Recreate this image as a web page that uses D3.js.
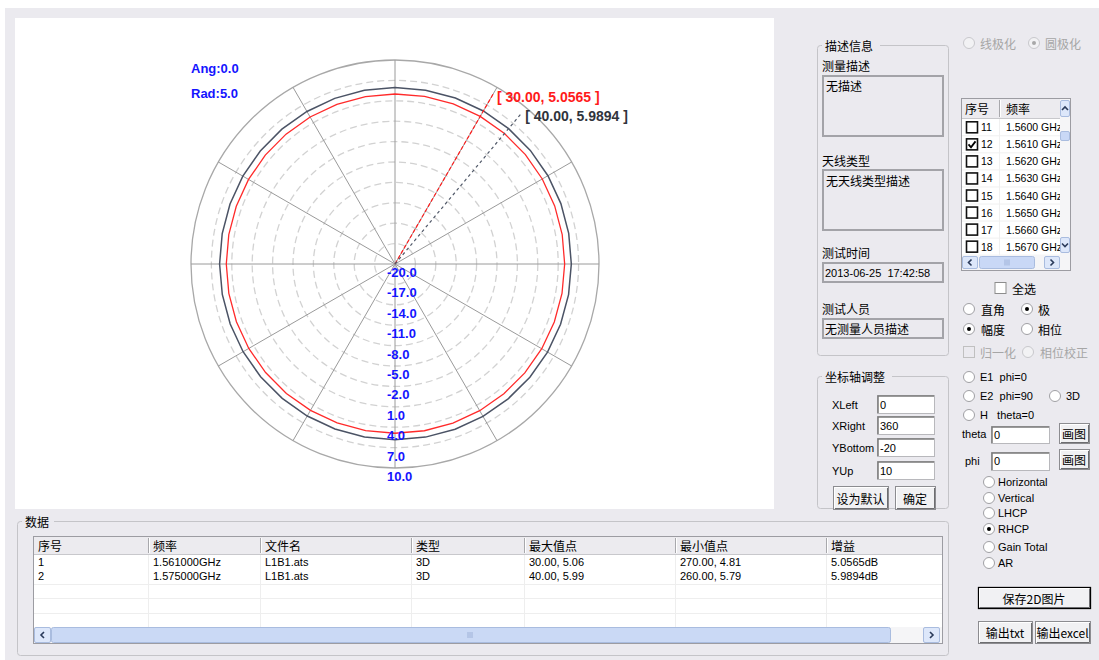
<!DOCTYPE html>
<html><head><meta charset="utf-8">
<script src="https://cdn.jsdelivr.net/npm/d3@7"></script>
<style>
body{margin:0;background:#fff;}
svg text{font-family:"Liberation Sans",Arial,"Noto Sans CJK SC",sans-serif;white-space:pre;}
</style></head><body>
<svg id="c" width="1099" height="660"></svg>
<script>
// ---------- chart data ----------
const angles = [0,10,20,30,40,50,60,70,80,90,100,110,120,130,140,150,160,170,180,190,200,210,220,230,240,250,260,270,280,290,300,310,320,330,340,350];
const gain1561 = [5.00,5.03,5.05,5.06,5.05,5.03,5.01,4.99,4.97,4.95,4.94,4.93,4.92,4.92,4.91,4.91,4.90,4.90,4.89,4.88,4.87,4.86,4.85,4.84,4.83,4.82,4.815,4.81,4.82,4.84,4.87,4.90,4.93,4.96,4.98,4.99];
const gain1575 = [5.95,5.96,5.97,5.98,5.99,5.98,5.97,5.96,5.94,5.93,5.92,5.91,5.90,5.89,5.88,5.87,5.86,5.85,5.84,5.83,5.82,5.81,5.80,5.80,5.795,5.79,5.79,5.795,5.80,5.82,5.84,5.86,5.88,5.90,5.92,5.94];
const radialTicks = [-20,-17,-14,-11,-8,-5,-2,1,4,7,10];
const spokeAngles = [0,30,60,90,120,150,180,210,240,270,300,330];
const markerAngles = [30,40];
const markerValues = [5.0565,5.9894];
const infoLabels = ["Ang:0.0","Rad:5.0"];

// ---------- UI data ----------
const listNums = [11,12,13,14,15,16,17,18];
const listFreqs = ["1.5600 GHz","1.5610 GHz","1.5620 GHz","1.5630 GHz","1.5640 GHz","1.5650 GHz","1.5660 GHz","1.5670 GHz"];
const listChecked = [false,true,false,false,false,false,false,false];
const tableHeaders = ["序号","频率","文件名","类型","最大值点","最小值点","增益"];
const tableRows = [["1","1.561000GHz","L1B1.ats","3D","30.00, 5.06","270.00, 4.81","5.0565dB"],
                   ["2","1.575000GHz","L1B1.ats","3D","40.00, 5.99","260.00, 5.79","5.9894dB"]];
const axisLabels = ["XLeft","XRight","YBottom","YUp"];
const axisValues = ["0","360","-20","10"];
const compLabels = ["Horizontal","Vertical","LHCP","RHCP","Gain Total","AR"];

const svg = d3.select("#c");
const PANEL = "#ebeaef";
const CN = '"Noto Sans CJK SC","Liberation Sans",sans-serif';
const LAT = '"Liberation Sans",Arial,sans-serif';

svg.append("rect").attr("x",5).attr("y",8).attr("width",1094).attr("height",652).attr("fill",PANEL);
svg.append("rect").attr("x",15).attr("y",18).attr("width",759).attr("height",491).attr("fill","#fff");

// ---------- polar chart ----------
const cx = 395, cy = 264, R = 204;
const r = d3.scaleLinear().domain([-20,10]).range([0,R]);
const a = d3.scaleLinear().domain([0,360]).range([0,2*Math.PI]);
const g = svg.append("g").attr("transform",`translate(${cx},${cy})`);
const px = (deg,rr)=>rr*Math.sin(a(deg));
const py = (deg,rr)=>-rr*Math.cos(a(deg));

g.selectAll("circle.ring").data(radialTicks.filter(t=>t>-20 && t<10)).join("circle")
  .attr("r",d=>r(d)).attr("fill","none").attr("stroke","#d2d2d2").attr("stroke-width",1.3)
  .attr("stroke-dasharray","7,4");
g.append("circle").attr("r",r(10)).attr("fill","none").attr("stroke","#a8a8a8").attr("stroke-width",1.3);
g.selectAll("line.spoke").data(spokeAngles).join("line")
  .attr("x1",0).attr("y1",0).attr("x2",d=>px(d,r(10))).attr("y2",d=>py(d,r(10)))
  .attr("stroke","#9a9a9a").attr("stroke-width",1);

const line = d3.lineRadial().angle(d=>a(d[0])).radius(d=>r(d[1])).curve(d3.curveLinearClosed);
g.append("path").datum(angles.map((d,i)=>[d,gain1575[i]])).attr("d",line)
  .attr("fill","none").attr("stroke","#4b5365").attr("stroke-width",1.5);
g.append("path").datum(angles.map((d,i)=>[d,gain1561[i]])).attr("d",line)
  .attr("fill","none").attr("stroke","#ff2a2a").attr("stroke-width",1.3);

const mColors = ["#ff2020","#505868"];
const mTextColors = ["#ff1a1a","#30343c"];
const mLen = R*0.97;
markerAngles.forEach((ang,i)=>{
  g.append("line").attr("x1",0).attr("y1",0).attr("x2",px(ang,mLen)).attr("y2",py(ang,mLen))
    .attr("stroke",mColors[i]).attr("stroke-width",1.2).attr("stroke-dasharray", i===0?"4,2":"3,3");
  g.append("text").attr("x",px(ang,mLen)+3).attr("y",py(ang,mLen)+4)
    .attr("dominant-baseline","central").attr("font-size",14).attr("font-weight","bold")
    .attr("fill",mTextColors[i]).text(`[ ${ang.toFixed(2)}, ${markerValues[i].toFixed(4)} ]`);
});

g.selectAll("text.tick").data(radialTicks).join("text")
  .attr("x",-8).attr("y",d=>r(d)+13).attr("font-size",13).attr("font-weight","bold")
  .attr("fill","#1414ff").text(d=>d.toFixed(1));

infoLabels.forEach((t,i)=>svg.append("text").attr("x",191).attr("y",68+25*i).attr("dominant-baseline","central")
  .attr("font-size",13).attr("font-weight","bold").attr("fill","#1414ff").text(t));

// ---------- UI helpers ----------
function txt(x,y,s,opt={}){
  return svg.append("text").attr("x",x).attr("y",y).attr("dominant-baseline","central")
    .attr("font-size",opt.size||12).attr("fill",opt.fill||"#000")
    .style("font-family",opt.lat?LAT:CN).attr("text-anchor",opt.anchor||"start").text(s);
}
function groupBox(x,y,w,h,title,tw){
  svg.append("rect").attr("x",x+0.5).attr("y",y+0.5).attr("width",w).attr("height",h).attr("rx",3)
    .attr("fill","none").attr("stroke","#c4c4c8");
  svg.append("rect").attr("x",x+5).attr("y",y-7).attr("width",tw).attr("height",14).attr("fill",PANEL);
  txt(x+8,y,title);
}
function roBox(x,y,w,h){
  svg.append("rect").attr("x",x+1).attr("y",y+1).attr("width",w-2).attr("height",h-2).attr("fill",PANEL)
    .attr("stroke","#a3a3a8").attr("stroke-width",2);
}
function input(x,y,w,h){
  svg.append("rect").attr("x",x+0.5).attr("y",y+0.5).attr("width",w).attr("height",h).attr("fill","#fff").attr("stroke","#b8b8bc");
  svg.append("path").attr("d",`M${x+1},${y+h}V${y+1}H${x+w}`).attr("fill","none").attr("stroke","#7a7a7a").attr("stroke-width",1.5);
}
function button(x,y,w,h,label,def){
  svg.append("rect").attr("x",x+0.5).attr("y",y+0.5).attr("width",w).attr("height",h).attr("fill","#f1f1f3")
    .attr("stroke",def?"#000":"#8c8c90").attr("stroke-width",def?1.3:1);
  svg.append("path").attr("d",`M${x+1.5},${y+h-1}V${y+1.5}H${x+w-1}`).attr("fill","none").attr("stroke","#fff");
  svg.append("path").attr("d",`M${x+2},${y+h-0.5}H${x+w-0.5}V${y+2}`).attr("fill","none").attr("stroke","#6d6d70");
  txt(x+w/2,y+h/2+0.5,label,{anchor:"middle"});
}
function radio(x,y,checked,disabled){
  svg.append("circle").attr("cx",x).attr("cy",y).attr("r",5.5).attr("fill",disabled?"#f2f2f4":"#fff")
    .attr("stroke",disabled?"#c8c8cc":"#a0a0a4");
  if(checked) svg.append("circle").attr("cx",x).attr("cy",y).attr("r",2).attr("fill",disabled?"#a8a8a8":"#000");
}
function checkbox(x,y,checked,style){
  const s = 11;
  svg.append("rect").attr("x",x).attr("y",y-s/2).attr("width",s).attr("height",s)
    .attr("fill",style==="dis"?PANEL:"#fff").attr("stroke",style==="bold"?"#111":(style==="dis"?"#c0c0c0":"#8d8d8d"))
    .attr("stroke-width",style==="bold"?1.6:1);
  if(checked) svg.append("path").attr("d",`M${x+2},${y}L${x+4.5},${y+3}L${x+9},${y-3}`).attr("fill","none").attr("stroke","#000").attr("stroke-width",1.8);
}
function scrollBtn(x,y,w,h,dir){
  svg.append("rect").attr("x",x+0.5).attr("y",y+0.5).attr("width",w-1).attr("height",h-1).attr("rx",1.5)
    .attr("fill","#dde7fa").attr("stroke","#a9bcdf");
  const mx=x+w/2,my=y+h/2;
  const d={up:`M${mx-3},${my+1.5}L${mx},${my-1.5}L${mx+3},${my+1.5}`,down:`M${mx-3},${my-1.5}L${mx},${my+1.5}L${mx+3},${my-1.5}`,
    left:`M${mx+1.5},${my-3}L${mx-1.5},${my}L${mx+1.5},${my+3}`,right:`M${mx-1.5},${my-3}L${mx+1.5},${my}L${mx-1.5},${my+3}`}[dir];
  svg.append("path").attr("d",d).attr("fill","none").attr("stroke","#2a3a5a").attr("stroke-width",1.6);
}
function grip(x,y,vertical){
  for(let i=-2;i<=2;i+=2){
    if(vertical) svg.append("line").attr("x1",x-3).attr("x2",x+3).attr("y1",y+i).attr("y2",y+i).attr("stroke","#9fb2d8");
    else svg.append("line").attr("x1",x+i).attr("x2",x+i).attr("y1",y-3).attr("y2",y+3).attr("stroke","#9fb2d8");
  }
}

// ---------- description group ----------
groupBox(817,45,131,310,"描述信息",58);
txt(822,65,"测量描述"); roBox(822,75,122,62); txt(826,85,"无描述");
txt(822,160,"天线类型"); roBox(822,169,122,62); txt(826,180,"无天线类型描述");
txt(822,252,"测试时间"); roBox(822,262,122,21); txt(825,273,"2013-06-25  17:42:58",{lat:true,size:11});
txt(822,308,"测试人员"); roBox(822,318,122,21); txt(825,328,"无测量人员描述");

// ---------- axis group ----------
groupBox(817,376,131,132,"坐标轴调整",70);
axisLabels.forEach((l,i)=>{
  const y=[405,426,448,471][i];
  txt(832,y,l,{lat:true,size:11});
  input(877,y-10,57,18);
  txt(880,y,axisValues[i],{lat:true,size:11});
});
button(833,486,55,23,"设为默认");
button(895,486,40,23,"确定");

// ---------- right column ----------
radio(969,43,false,true); txt(980,43,"线极化",{fill:"#a6a6a6"});
radio(1034,43,true,true); txt(1045,43,"圆极化",{fill:"#a6a6a6"});

// list box
svg.append("rect").attr("x",961.5).attr("y",98.5).attr("width",109).attr("height",172).attr("fill","#fff").attr("stroke","#9c9ca2");
svg.append("rect").attr("x",962).attr("y",99).attr("width",98).attr("height",19).attr("fill","#ecebef");
svg.append("line").attr("x1",962).attr("x2",1060).attr("y1",118.5).attr("y2",118.5).attr("stroke","#c8c8cc");
svg.append("line").attr("x1",999.5).attr("x2",999.5).attr("y1",100).attr("y2",117).attr("stroke","#a8a8ac");
svg.append("line").attr("x1",1000.5).attr("x2",1000.5).attr("y1",100).attr("y2",117).attr("stroke","#fff");
txt(965,108.5,"序号"); txt(1006,108.5,"频率");
svg.append("clipPath").attr("id","lc").append("rect").attr("x",962).attr("y",119).attr("width",98).attr("height",137);
const lg = svg.append("g").attr("clip-path","url(#lc)");
listNums.forEach((n,i)=>{
  const y = 127.3+17.05*i;
  lg.append("line").attr("x1",962).attr("x2",1060).attr("y1",y+8.5).attr("y2",y+8.5).attr("stroke","#f0f0f0");
  checkbox(966.5,y,listChecked[i],"bold");
  lg.append("text").attr("x",981).attr("y",y).attr("dominant-baseline","central").attr("font-size",10.5).style("font-family",LAT).text(n);
  lg.append("text").attr("x",1006).attr("y",y).attr("dominant-baseline","central").attr("font-size",10.5).style("font-family",LAT).text(listFreqs[i]);
});
lg.append("line").attr("x1",999.5).attr("x2",999.5).attr("y1",119).attr("y2",256).attr("stroke","#f0f0f0");
// v scrollbar
svg.append("rect").attr("x",1060).attr("y",99).attr("width",10).attr("height",156).attr("fill","#f5f5f7");
scrollBtn(1060,100,10,17,"up"); 
svg.append("rect").attr("x",1060.5).attr("y",131.5).attr("width",9).attr("height",9).attr("rx",1.5).attr("fill","#c9d8f6").attr("stroke","#a9bcdf");
scrollBtn(1060,237,10,16,"down");
// h scrollbar
svg.append("rect").attr("x",962).attr("y",255).attr("width",108).attr("height",15).attr("fill","#f5f5f7");
scrollBtn(962,256,16,13,"left");
svg.append("rect").attr("x",979.5).attr("y",256.5).attr("width",55).attr("height",12).attr("rx",2).attr("fill","#c9d8f6").attr("stroke","#a9bcdf");
grip(1007,262.5,false);
scrollBtn(1044,256,16,13,"right");

checkbox(995,288,false,"norm"); txt(1012,288,"全选");
radio(969,309,false); txt(981,309,"直角");
radio(1027,309,true); txt(1038,309,"极");
radio(969,329,true); txt(981,329,"幅度");
radio(1027,329,false); txt(1038,329,"相位");
checkbox(963.5,352,false,"dis"); txt(980,352,"归一化",{fill:"#a6a6a6"});
radio(1028,352,false,true); txt(1040,352,"相位校正",{fill:"#a6a6a6"});
radio(969,377,false); txt(980,377,"E1  phi=0",{lat:true,size:11});
radio(969,396,false); txt(980,396,"E2  phi=90",{lat:true,size:11});
radio(1055,396,false); txt(1066,396,"3D",{lat:true,size:11});
radio(969,415,false); txt(980,415,"H   theta=0",{lat:true,size:11});
txt(962,434,"theta",{lat:true,size:11}); input(991,426,58,17); txt(994,435,"0",{lat:true,size:11});
button(1059,423,30,20,"画图");
txt(965,461,"phi",{lat:true,size:11}); input(991,452,58,18); txt(994,461,"0",{lat:true,size:11});
button(1059,449,30,20,"画图");
compLabels.forEach((l,i)=>{
  const y=[482,498,513,529,547,563][i];
  radio(989,y,l==="RHCP"); txt(998,y,l,{lat:true,size:11});
});
button(978,587,112,21,"保存2D图片",true);
button(978,621,54,22,"输出txt");
button(1035,621,55,22,"输出excel");

// ---------- data table ----------
groupBox(17,521,931,134,"数据",32);
const colX = [33,148,260,411,524,675,826,942];
svg.append("rect").attr("x",33.5).attr("y",536.5).attr("width",909).attr("height",107).attr("fill","#fff").attr("stroke","#9c9ca2");
svg.append("rect").attr("x",34).attr("y",537).attr("width",908).attr("height",17).attr("fill","#ecebef");
svg.append("line").attr("x1",34).attr("x2",942).attr("y1",554.5).attr("y2",554.5).attr("stroke","#c8c8cc");
colX.slice(1,-1).forEach(x=>{
  svg.append("line").attr("x1",x+0.5).attr("x2",x+0.5).attr("y1",538).attr("y2",553).attr("stroke","#a8a8ac");
  svg.append("line").attr("x1",x+1.5).attr("x2",x+1.5).attr("y1",538).attr("y2",553).attr("stroke","#fff");
  svg.append("line").attr("x1",x+0.5).attr("x2",x+0.5).attr("y1",555).attr("y2",627).attr("stroke","#eeeeee");
});
tableHeaders.forEach((h,i)=>txt(colX[i]+5,545.5,h));
[584,598,613].forEach(y=>svg.append("line").attr("x1",34).attr("x2",942).attr("y1",y+0.5).attr("y2",y+0.5).attr("stroke","#eeeeee"));
tableRows.forEach((row,j)=>row.forEach((c,i)=>txt(colX[i]+5,562+14*j,c,{lat:true,size:11})));
svg.append("rect").attr("x",34).attr("y",627).attr("width",908).attr("height",16).attr("fill","#f5f5f7");
scrollBtn(34,627,17,16,"left");
svg.append("rect").attr("x",51.5).attr("y",627.5).attr("width",839).attr("height",15).attr("rx",2).attr("fill","#cad9f5").attr("stroke","#a9bcdf");
grip(470,635,false);
scrollBtn(923,627,17,16,"right");
</script>
</body></html>
